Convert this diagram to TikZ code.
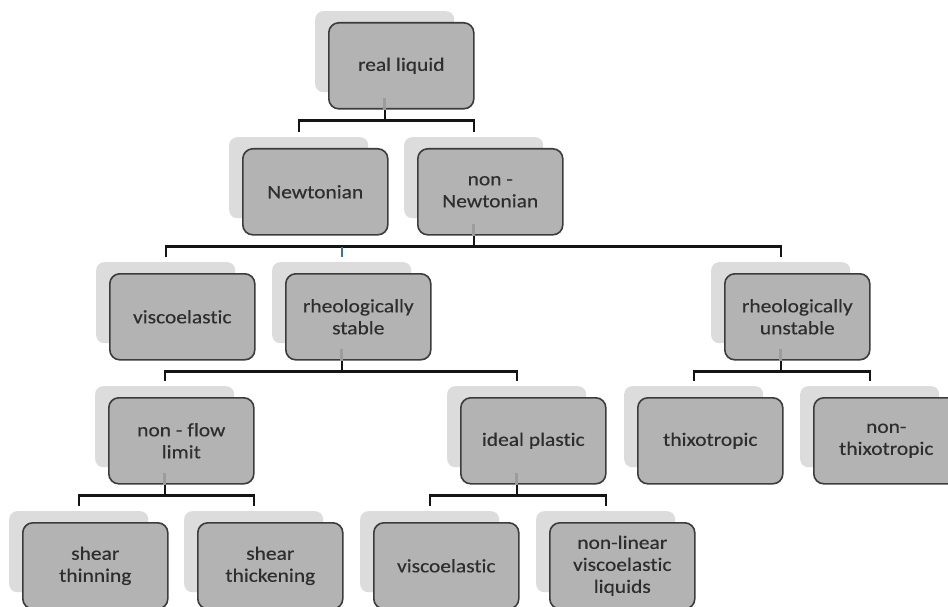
\documentclass[tikz,border=0pt]{standalone}
\usepackage{fontspec}
\setmainfont{Carlito}[FakeStretch=1.13, Ligatures=NoCommon, FakeBold=0.35]
\usetikzlibrary{calc}
\definecolor{frontfill}{HTML}{B3B3B3}
\definecolor{shadowfill}{HTML}{DCDCDC}
\definecolor{boxline}{HTML}{3C3C3C}
\definecolor{boxtext}{HTML}{2E2E2E}
\definecolor{connline}{HTML}{141414}
\definecolor{stubblue}{HTML}{3F6F9F}
\definecolor{stubgray}{HTML}{9C9C9C}
\tikzset{
  frontbox/.style={draw=boxline, line width=1.6pt, fill=frontfill, rounded corners=10pt,
    minimum width=145pt, minimum height=86pt, inner sep=0pt, align=center,
    text=boxtext, font=\fontsize{19}{22}\selectfont, anchor=north west},
  shadowbox/.style={fill=shadowfill, rounded corners=8pt, draw=none,
    minimum width=139pt, minimum height=81pt, inner sep=0pt, anchor=north west},
  conn/.style={draw=connline, line width=2.3pt},
  ghost/.style={draw=stubgray, line width=2.5pt},
}
\newcommand\treebox[4]{%
  \node[shadowbox] (#1-s) at (#2-13,#3-11) {};
  \node[frontbox] (#1) at (#2,#3) {#4};
}
\begin{document}
\begin{tikzpicture}[x=1pt,y=-1pt]
\useasboundingbox (0,0) rectangle (948,607);
\clip (0,0) rectangle (948,607);
\fill[white] (0,0) rectangle (948,607);

% boxes
\treebox{rl}{328}{22}{real liquid}
\treebox{nw}{242}{148}{Newtonian}
\treebox{nn}{417}{148}{non -\\Newtonian}
\treebox{ve}{109}{273}{viscoelastic}
\treebox{rs}{285}{273}{rheologically\\stable}
\treebox{ru}{724}{273}{rheologically\\unstable}
\treebox{nf}{108}{397}{non - flow\\limit}
\treebox{ip}{460}{397}{ideal plastic}
\treebox{tx}{637}{397}{thixotropic}
\treebox{nt}{813}{397}{non-\\thixotropic}
\treebox{st}{22}{522}{shear\\thinning}
\treebox{sk}{197}{522}{shear\\thickening}
\treebox{vb}{373}{522}{viscoelastic}
\treebox{nl}{549}{522}{non-linear\\viscoelastic\\liquids}

% ghost stubs inside parent boxes
\foreach \p in {rl,nn,rs,ru,nf,ip}{
  \draw[ghost] (\p-s.south |- \p.south) -- ++(0,-12);
}

% bus coordinates
\foreach \p in {rl,nn,rs,ru,nf,ip}{
  \coordinate (\p-bus) at ($(\p-s.south |- \p.south)+(0,11)$);
}

% connectors
\draw[conn] (rl-s.south |- rl.south) -- (rl-bus) -| ([yshift=5pt]nw-s.north);
\draw[conn] (rl-s.south |- rl.south) -- (rl-bus) -| ([yshift=5pt]nn-s.north);

\draw[conn] (nn-s.south |- nn.south) -- (nn-bus) -| ([yshift=5pt]ve-s.north);
\draw[conn] (nn-s.south |- nn.south) -- (nn-bus) -| ([yshift=5pt]ru-s.north);
\draw[conn] (nn-bus) -- (rs-s.north |- nn-bus);
\draw[conn, draw=stubblue] (rs-s.north |- nn-bus) -- ([yshift=5pt]rs-s.north);

\draw[conn] (rs-s.south |- rs.south) -- (rs-bus) -| ([yshift=5pt]nf-s.north);
\draw[conn] (rs-s.south |- rs.south) -- (rs-bus) -| ([yshift=5pt]ip-s.north);

\draw[conn] (ru-s.south |- ru.south) -- (ru-bus) -| ([yshift=5pt]tx-s.north);
\draw[conn] (ru-s.south |- ru.south) -- (ru-bus) -| ([yshift=5pt]nt-s.north);

\draw[conn] (nf-s.south |- nf.south) -- (nf-bus) -| ([yshift=5pt]st-s.north);
\draw[conn] (nf-s.south |- nf.south) -- (nf-bus) -| ([yshift=5pt]sk-s.north);

\draw[conn] (ip-s.south |- ip.south) -- (ip-bus) -| ([yshift=5pt]vb-s.north);
\draw[conn] (ip-s.south |- ip.south) -- (ip-bus) -| ([yshift=5pt]nl-s.north);
\end{tikzpicture}
\end{document}
